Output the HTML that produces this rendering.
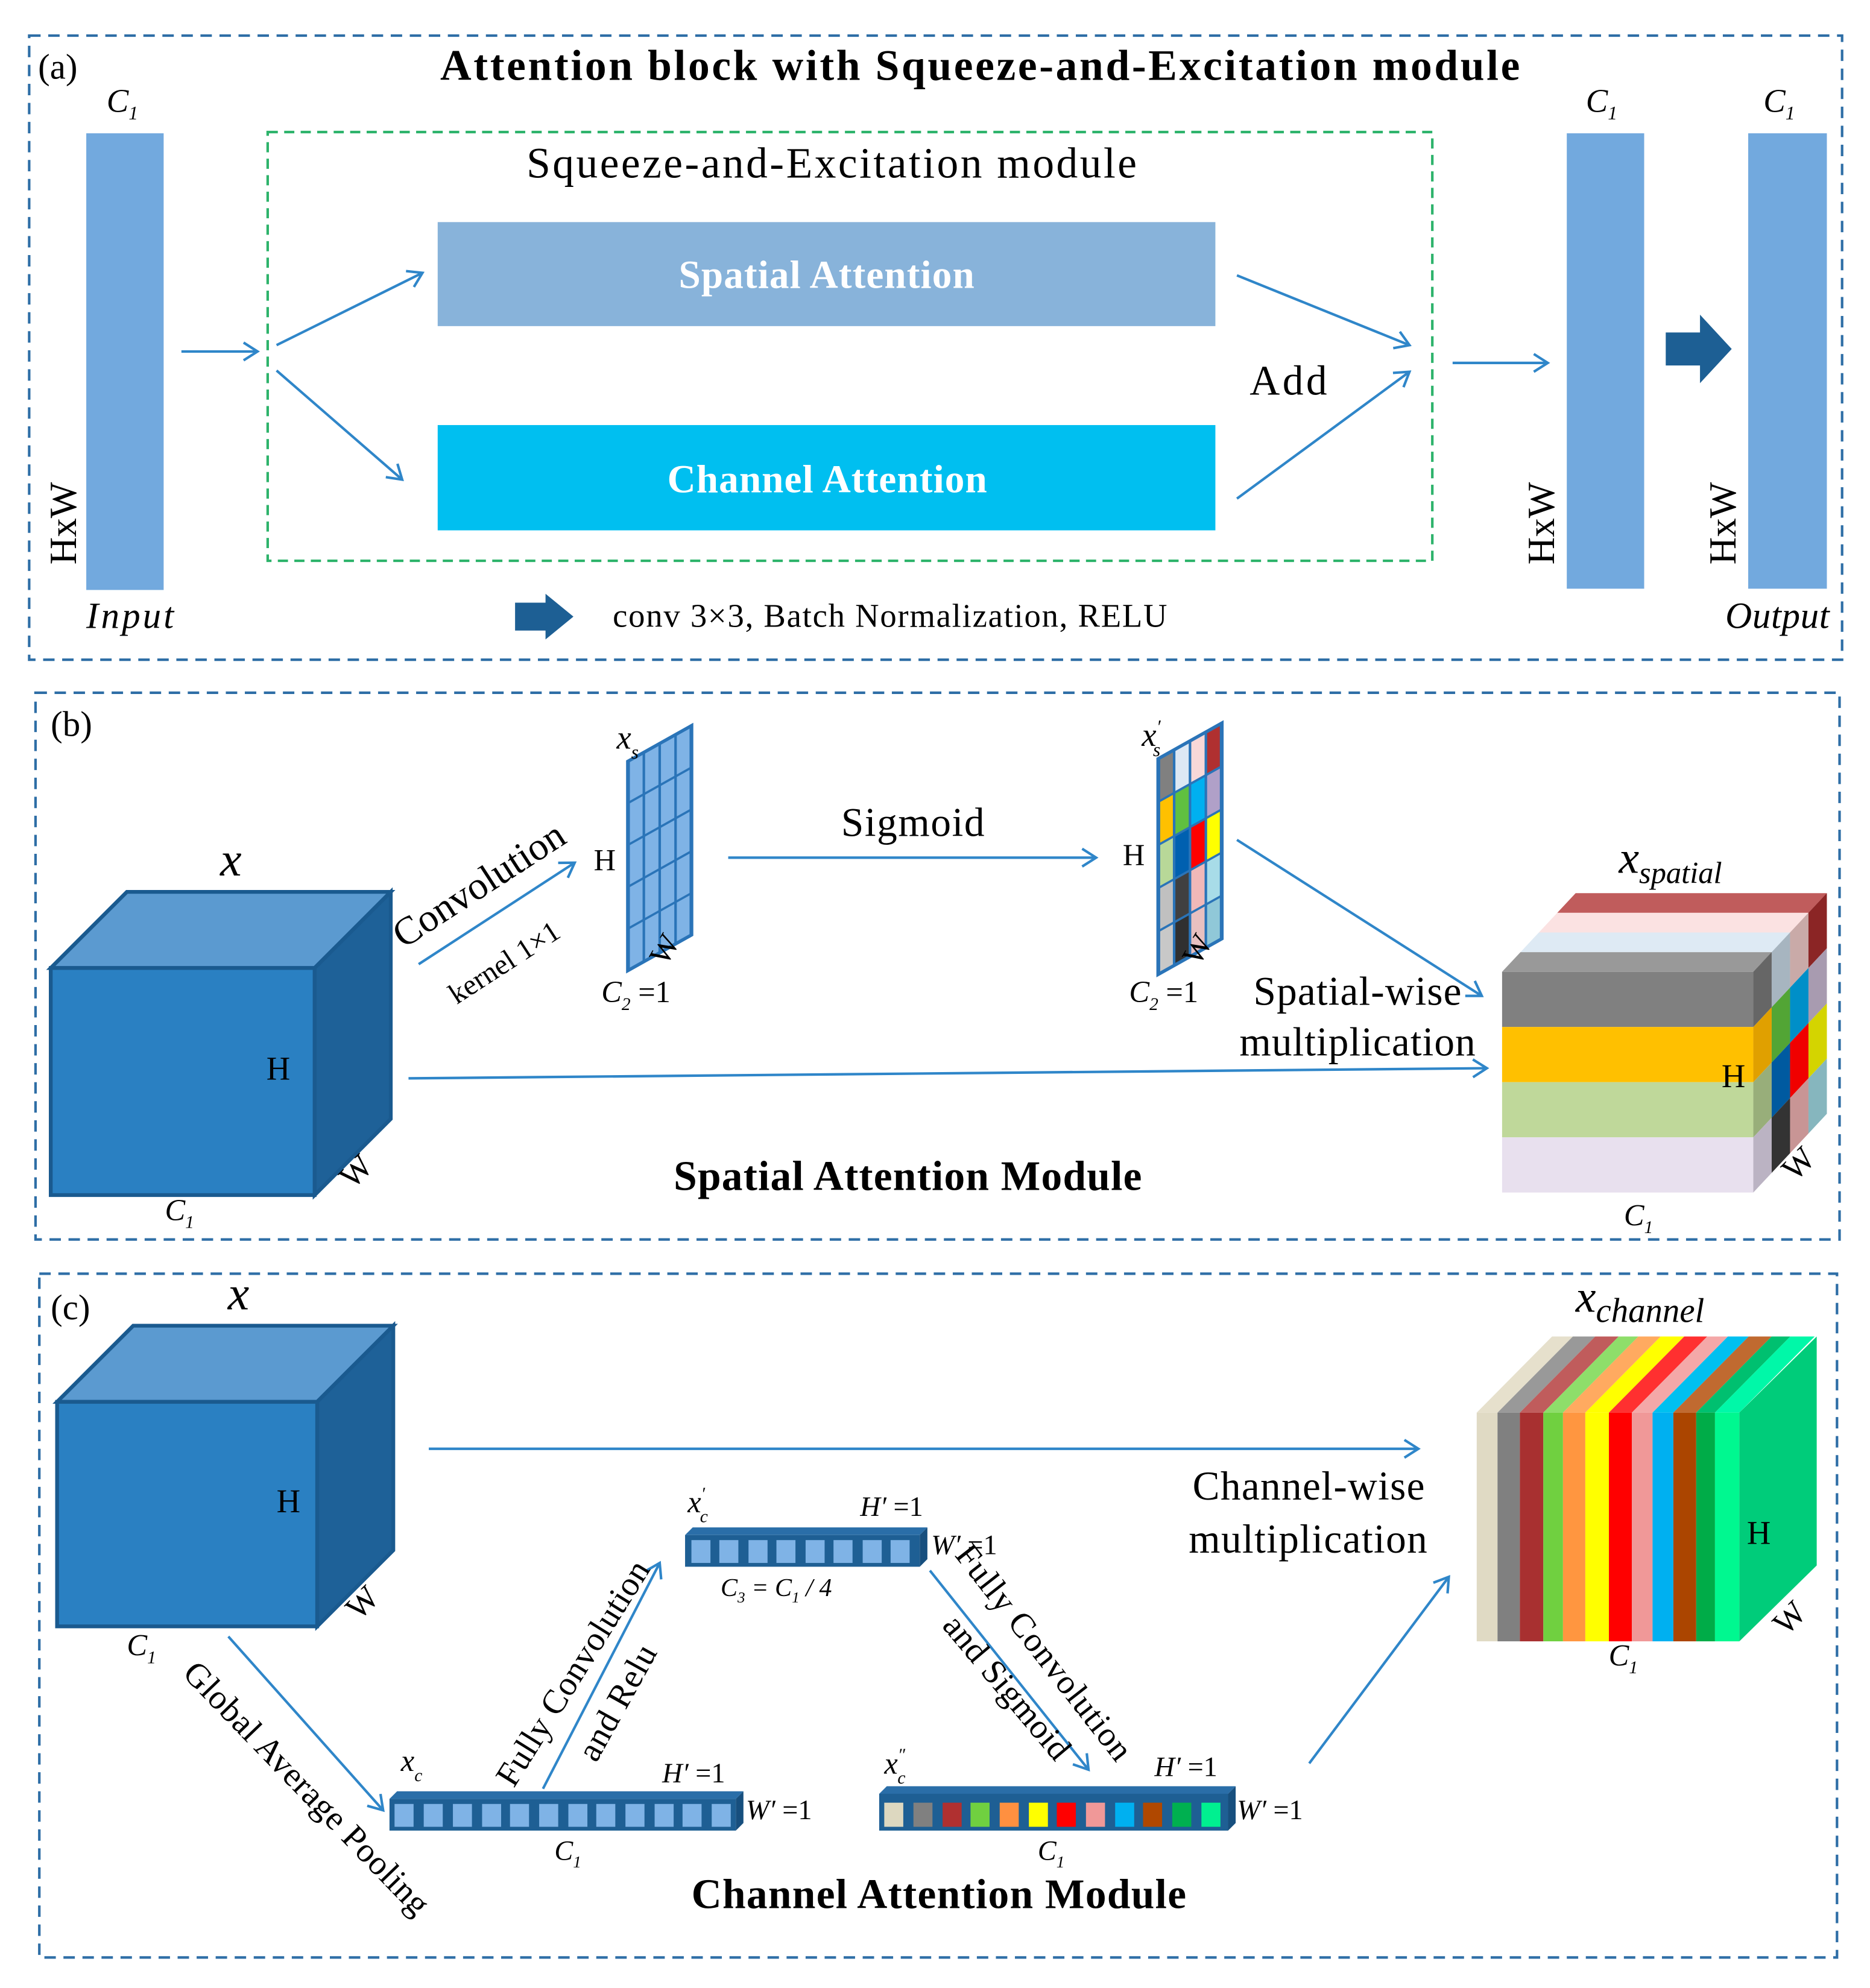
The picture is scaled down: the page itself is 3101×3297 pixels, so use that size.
<!DOCTYPE html>
<html><head><meta charset="utf-8"><style>
html,body{margin:0;padding:0;background:#fff}
svg{display:block}
text{font-family:"Liberation Serif",serif;fill:#000}
.i{font-style:italic}
.b{font-weight:bold}
</style></head><body>
<svg width="3101" height="3297" viewBox="0 0 1474 1567" xmlns="http://www.w3.org/2000/svg">
<defs>
<marker id="ar" markerWidth="16" markerHeight="16" refX="12" refY="8" orient="auto" markerUnits="userSpaceOnUse">
<path d="M1,1 L12,8 L1,15" fill="none" stroke="#2f86c9" stroke-width="2"/>
</marker>
</defs>
<g fill="none" stroke="#2e6ea6" stroke-width="2" stroke-dasharray="9,6">
<rect x="23" y="28" width="1429" height="492"/>
<rect x="28" y="546" width="1422" height="431"/>
<rect x="31" y="1004" width="1417" height="539"/>
</g>
<rect x="211" y="104" width="918" height="338" fill="none" stroke="#2db36b" stroke-width="2" stroke-dasharray="8,5"/>

<!-- (a) -->
<text x="30" y="62" font-size="28">(a)</text>
<text x="347" y="63" font-size="34" class="b" textLength="851" lengthAdjust="spacing">Attention block with Squeeze-and-Excitation  module</text>
<rect x="68" y="105" width="61" height="360" fill="#72a9de"/>
<text x="84" y="88" font-size="26" class="i">C<tspan font-size="15" dy="6">1</tspan></text>
<text transform="translate(60,445) rotate(-90)" font-size="30">HxW</text>
<text x="68" y="495" font-size="29" class="i" textLength="69" lengthAdjust="spacing">Input</text>
<text x="415" y="140" font-size="34" textLength="481" lengthAdjust="spacing">Squeeze-and-Excitation  module</text>
<rect x="345" y="175" width="613" height="82" fill="#88b3da"/>
<text x="535" y="227" font-size="31" class="b" style="fill:#fff" textLength="233" lengthAdjust="spacing">Spatial Attention</text>
<rect x="345" y="335" width="613" height="83" fill="#00bff0"/>
<text x="526" y="388" font-size="31" class="b" style="fill:#fff" textLength="252" lengthAdjust="spacing">Channel Attention</text>
<g stroke="#2f86c9" stroke-width="2" marker-end="url(#ar)">
<line x1="143" y1="277" x2="203" y2="277"/>
<line x1="218" y1="272" x2="333" y2="215"/>
<line x1="218" y1="292" x2="317" y2="378"/>
<line x1="975" y1="217" x2="1111" y2="272"/>
<line x1="975" y1="393" x2="1111" y2="293"/>
<line x1="1145" y1="286" x2="1220" y2="286"/>
</g>
<text x="985" y="311" font-size="33" textLength="61" lengthAdjust="spacing">Add</text>
<rect x="1235" y="105" width="61" height="359" fill="#72a9de"/>
<text x="1250" y="88" font-size="26" class="i">C<tspan font-size="15" dy="6">1</tspan></text>
<text transform="translate(1225,445) rotate(-90)" font-size="30">HxW</text>
<path d="M1313,262 L1340,262 L1340,248 L1365,275 L1340,302 L1340,288 L1313,288 Z" fill="#1d5f94"/>
<rect x="1378" y="105" width="62" height="359" fill="#72a9de"/>
<text x="1390" y="88" font-size="26" class="i">C<tspan font-size="15" dy="6">1</tspan></text>
<text transform="translate(1368,445) rotate(-90)" font-size="30">HxW</text>
<text x="1360" y="495" font-size="29" class="i" textLength="82" lengthAdjust="spacing">Output</text>
<path d="M406,475 L430,475 L430,468 L452,486 L430,504 L430,497 L406,497 Z" fill="#1d5f94"/>
<text x="483" y="494" font-size="26" textLength="437" lengthAdjust="spacing">conv 3×3, Batch Normalization, RELU</text>

<!-- (b) -->
<text x="40" y="580" font-size="28">(b)</text>
<polygon points="40,763 100,703 308,703 248,763" fill="#5b9ad0" stroke="#1a5a8f" stroke-width="3"/>
<polygon points="248,763 308,703 308,882 248,942" fill="#1e6198" stroke="#1a5a8f" stroke-width="3"/>
<rect x="40" y="763" width="208" height="179" fill="#2a80c2" stroke="#1a5a8f" stroke-width="3"/>
<text x="182" y="690" font-size="38" class="i" text-anchor="middle">x</text>
<text x="210" y="851" font-size="26">H</text>
<text transform="translate(278,938) rotate(-45)" font-size="26">W</text>
<text x="130" y="962" font-size="24" class="i">C<tspan font-size="14" dy="6">1</tspan></text>
<g stroke="#2f86c9" stroke-width="2" marker-end="url(#ar)">
<line x1="330" y1="760" x2="453" y2="680"/>
<line x1="574" y1="676" x2="864" y2="676"/>
<line x1="975" y1="662" x2="1168" y2="785"/>
<path d="M322,850 L1172,842" fill="none"/>
</g>
<text transform="translate(318,748) rotate(-33)" font-size="31">Convolution</text>
<text transform="translate(360,792) rotate(-33)" font-size="23">kernel 1×1</text>
<g transform="matrix(1,-0.56,0,1,495,600)">
<rect x="0" y="0" width="50" height="165" fill="#7fb3e6" stroke="#2a74b8" stroke-width="3"/>
<g stroke="#2a74b8" stroke-width="2">
<line x1="12.5" y1="0" x2="12.5" y2="165"/><line x1="25" y1="0" x2="25" y2="165"/><line x1="37.5" y1="0" x2="37.5" y2="165"/>
<line x1="0" y1="33" x2="50" y2="33"/><line x1="0" y1="66" x2="50" y2="66"/><line x1="0" y1="99" x2="50" y2="99"/><line x1="0" y1="132" x2="50" y2="132"/>
</g></g>
<text x="486" y="590" font-size="26" class="i">x<tspan font-size="15" dy="8">s</tspan></text>
<text x="468" y="686" font-size="24">H</text>
<text transform="translate(525,762) rotate(-60)" font-size="24">W</text>
<text x="474" y="790" font-size="24" class="i">C<tspan font-size="14" dy="6">2</tspan><tspan dy="-6" font-style="normal"> =1</tspan></text>
<text x="663" y="659" font-size="32" textLength="113" lengthAdjust="spacing">Sigmoid</text>
<g transform="matrix(1,-0.56,0,1,913,598)">
<g stroke="none">
<rect x="0" y="0" width="12.5" height="34" fill="#808080"/><rect x="12.5" y="0" width="12.5" height="34" fill="#dde8f4"/><rect x="25" y="0" width="12.5" height="34" fill="#f8d8d8"/><rect x="37.5" y="0" width="12.5" height="34" fill="#b03030"/>
<rect x="0" y="34" width="12.5" height="34" fill="#ffc000"/><rect x="12.5" y="34" width="12.5" height="34" fill="#60c040"/><rect x="25" y="34" width="12.5" height="34" fill="#00b0f0"/><rect x="37.5" y="34" width="12.5" height="34" fill="#b0a0c8"/>
<rect x="0" y="68" width="12.5" height="34" fill="#b8d898"/><rect x="12.5" y="68" width="12.5" height="34" fill="#0060b0"/><rect x="25" y="68" width="12.5" height="34" fill="#ff0000"/><rect x="37.5" y="68" width="12.5" height="34" fill="#ffff00"/>
<rect x="0" y="102" width="12.5" height="34" fill="#c0c0c0"/><rect x="12.5" y="102" width="12.5" height="34" fill="#404040"/><rect x="25" y="102" width="12.5" height="34" fill="#f0b8b8"/><rect x="37.5" y="102" width="12.5" height="34" fill="#a8dce8"/>
<rect x="0" y="136" width="12.5" height="34" fill="#c8c8c8"/><rect x="12.5" y="136" width="12.5" height="34" fill="#303030"/><rect x="25" y="136" width="12.5" height="34" fill="#e8c0c0"/><rect x="37.5" y="136" width="12.5" height="34" fill="#90c8d8"/>
</g>
<rect x="0" y="0" width="50" height="170" fill="none" stroke="#2a74b8" stroke-width="3"/>
<g stroke="#2a74b8" stroke-width="2">
<line x1="12.5" y1="0" x2="12.5" y2="170"/><line x1="25" y1="0" x2="25" y2="170"/><line x1="37.5" y1="0" x2="37.5" y2="170"/>
<line x1="0" y1="34" x2="50" y2="34"/><line x1="0" y1="68" x2="50" y2="68"/><line x1="0" y1="102" x2="50" y2="102"/><line x1="0" y1="136" x2="50" y2="136"/>
</g></g>
<text x="900" y="588" font-size="26" class="i">x<tspan font-size="15" dy="-10">′</tspan><tspan font-size="15" dx="-6" dy="18">s</tspan></text>
<text x="885" y="682" font-size="24">H</text>
<text transform="translate(945,762) rotate(-60)" font-size="24">W</text>
<text x="890" y="790" font-size="24" class="i">C<tspan font-size="14" dy="6">2</tspan><tspan dy="-6" font-style="normal"> =1</tspan></text>
<text x="988" y="792" font-size="32" textLength="164" lengthAdjust="spacing">Spatial-wise</text>
<text x="977" y="832" font-size="32" textLength="186" lengthAdjust="spacing">multiplication</text>
<text x="531" y="938" font-size="33" class="b" textLength="369" lengthAdjust="spacing">Spatial Attention Module</text>
<!-- spatial cube -->
<g transform="matrix(1,0,-0.935,1,1184,766)">
<rect x="0" y="-62" width="198" height="15.5" fill="#c05c5c"/>
<rect x="0" y="-46.5" width="198" height="15.5" fill="#fbe2e2"/>
<rect x="0" y="-31" width="198" height="15.5" fill="#deeaf4"/>
<rect x="0" y="-15.5" width="198" height="15.5" fill="#999"/>
</g>
<g transform="matrix(1,-1.07,0,1,1382,766)">
<rect x="0" y="0" width="14.5" height="43.5" fill="#666"/><rect x="14.5" y="0" width="14.5" height="43.5" fill="#a7b5c0"/><rect x="29" y="0" width="14.5" height="43.5" fill="#c9aaa8"/><rect x="43.5" y="0" width="14.5" height="43.5" fill="#8b2525"/>
<rect x="0" y="43.5" width="14.5" height="43.5" fill="#e0a000"/><rect x="14.5" y="43.5" width="14.5" height="43.5" fill="#52a535"/><rect x="29" y="43.5" width="14.5" height="43.5" fill="#008fc8"/><rect x="43.5" y="43.5" width="14.5" height="43.5" fill="#a89bb0"/>
<rect x="0" y="87" width="14.5" height="43.5" fill="#98ae7a"/><rect x="14.5" y="87" width="14.5" height="43.5" fill="#005aa0"/><rect x="29" y="87" width="14.5" height="43.5" fill="#f00000"/><rect x="43.5" y="87" width="14.5" height="43.5" fill="#d4d400"/>
<rect x="0" y="130.5" width="14.5" height="43.5" fill="#bbb3c3"/><rect x="14.5" y="130.5" width="14.5" height="43.5" fill="#333"/><rect x="29" y="130.5" width="14.5" height="43.5" fill="#c89595"/><rect x="43.5" y="130.5" width="14.5" height="43.5" fill="#86b6be"/>
</g>
<rect x="1184" y="766" width="198" height="43.5" fill="#808080"/>
<rect x="1184" y="809.5" width="198" height="43.5" fill="#ffc000"/>
<rect x="1184" y="853" width="198" height="43.5" fill="#bfd89a"/>
<rect x="1184" y="896.5" width="198" height="43.5" fill="#e8e0ee"/>
<text x="1357" y="857" font-size="26">H</text>
<text transform="translate(1415,932) rotate(-45)" font-size="26">W</text>
<text x="1280" y="966" font-size="24" class="i">C<tspan font-size="14" dy="6">1</tspan></text>
<text x="1276" y="688" font-size="36" class="i">x<tspan font-size="24" dy="8">spatial</tspan></text>

<!-- (c) -->
<text x="40" y="1040" font-size="28">(c)</text>
<polygon points="45,1105 105,1045 310,1045 250,1105" fill="#5b9ad0" stroke="#1a5a8f" stroke-width="3"/>
<polygon points="250,1105 310,1045 310,1222 250,1282" fill="#1e6198" stroke="#1a5a8f" stroke-width="3"/>
<rect x="45" y="1105" width="205" height="177" fill="#2a80c2" stroke="#1a5a8f" stroke-width="3"/>
<text x="188" y="1032" font-size="38" class="i" text-anchor="middle">x</text>
<text x="218" y="1192" font-size="26">H</text>
<text transform="translate(283,1278) rotate(-45)" font-size="26">W</text>
<text x="100" y="1305" font-size="24" class="i">C<tspan font-size="14" dy="6">1</tspan></text>
<g stroke="#2f86c9" stroke-width="2" marker-end="url(#ar)">
<line x1="338" y1="1142" x2="1118" y2="1142"/>
<line x1="1032" y1="1390" x2="1142" y2="1243"/>
<line x1="180" y1="1290" x2="302" y2="1427"/>
<line x1="428" y1="1410" x2="520" y2="1232"/>
<line x1="733" y1="1238" x2="858" y2="1395"/>
</g>
<text x="940" y="1182" font-size="32" textLength="183" lengthAdjust="spacing">Channel-wise</text>
<text x="937" y="1224" font-size="32" textLength="188" lengthAdjust="spacing">multiplication</text>
<text transform="translate(143,1320) rotate(46)" font-size="27" textLength="266" lengthAdjust="spacing">Global Average Pooling</text>
<text transform="translate(405,1410) rotate(-58)" font-size="27" textLength="204" lengthAdjust="spacing">Fully Convolution</text>
<text transform="translate(470,1390) rotate(-61)" font-size="27" textLength="100" lengthAdjust="spacing">and Relu</text>
<text transform="translate(752,1226) rotate(52)" font-size="27" textLength="208" lengthAdjust="spacing">Fully Convolution</text>
<text transform="translate(742,1282) rotate(50)" font-size="27" textLength="140" lengthAdjust="spacing">and Sigmoid</text>
<!-- xc bar -->
<g>
<polygon points="307,1418 313,1412 586,1412 580,1418" fill="#2a6ea8"/>
<rect x="307" y="1418" width="273" height="25" fill="#1e5f94"/>
<polygon points="580,1418 586,1412 586,1437 580,1443" fill="#174f7e"/>
<g fill="#7fb3e6">
<rect x="311" y="1422" width="15" height="18"/><rect x="334" y="1422" width="15" height="18"/><rect x="357" y="1422" width="15" height="18"/><rect x="380" y="1422" width="15" height="18"/><rect x="402" y="1422" width="15" height="18"/><rect x="425" y="1422" width="15" height="18"/><rect x="448" y="1422" width="15" height="18"/><rect x="470" y="1422" width="15" height="18"/><rect x="493" y="1422" width="15" height="18"/><rect x="516" y="1422" width="15" height="18"/><rect x="538" y="1422" width="15" height="18"/><rect x="561" y="1422" width="15" height="18"/>
</g></g>
<text x="316" y="1396" font-size="24" class="i">x<tspan font-size="14" dy="8">c</tspan></text>
<text x="522" y="1405" font-size="22" class="i">H′<tspan font-style="normal"> =1</tspan></text>
<text x="588" y="1434" font-size="22" class="i">W′<tspan font-style="normal"> =1</tspan></text>
<text x="437" y="1466" font-size="22" class="i">C<tspan font-size="13" dy="6">1</tspan></text>
<!-- x'c bar -->
<g>
<polygon points="540,1210 546,1204 731,1204 725,1210" fill="#2a6ea8"/>
<rect x="540" y="1210" width="185" height="25" fill="#1e5f94"/>
<polygon points="725,1210 731,1204 731,1229 725,1235" fill="#174f7e"/>
<g fill="#7fb3e6">
<rect x="545" y="1214" width="15" height="18"/><rect x="567" y="1214" width="15" height="18"/><rect x="590" y="1214" width="15" height="18"/><rect x="612" y="1214" width="15" height="18"/><rect x="635" y="1214" width="15" height="18"/><rect x="657" y="1214" width="15" height="18"/><rect x="680" y="1214" width="15" height="18"/><rect x="702" y="1214" width="15" height="18"/>
</g></g>
<text x="542" y="1192" font-size="24" class="i">x<tspan font-size="14" dy="-10">′</tspan><tspan font-size="14" dx="-4" dy="18">c</tspan></text>
<text x="678" y="1195" font-size="22" class="i">H′<tspan font-style="normal"> =1</tspan></text>
<text x="734" y="1225" font-size="22" class="i">W′<tspan font-style="normal"> =1</tspan></text>
<text x="568" y="1258" font-size="20" class="i">C<tspan font-size="12" dy="5">3</tspan><tspan dy="-5"> = C</tspan><tspan font-size="12" dy="5">1</tspan><tspan dy="-5"> / 4</tspan></text>
<!-- x''c bar -->
<g>
<polygon points="693,1414 699,1408 974,1408 968,1414" fill="#2a6ea8"/>
<rect x="693" y="1414" width="275" height="29" fill="#1e5f94"/>
<polygon points="968,1414 974,1408 974,1437 968,1443" fill="#174f7e"/>
<rect x="697" y="1421" width="15" height="19" fill="#ddd8c0"/><rect x="720" y="1421" width="15" height="19" fill="#808080"/><rect x="743" y="1421" width="15" height="19" fill="#b03030"/><rect x="765" y="1421" width="15" height="19" fill="#70d040"/><rect x="788" y="1421" width="15" height="19" fill="#ff9040"/><rect x="811" y="1421" width="15" height="19" fill="#ffff00"/><rect x="833" y="1421" width="15" height="19" fill="#ff0000"/><rect x="856" y="1421" width="15" height="19" fill="#f09898"/><rect x="879" y="1421" width="15" height="19" fill="#00b0f0"/><rect x="901" y="1421" width="15" height="19" fill="#b04800"/><rect x="924" y="1421" width="15" height="19" fill="#00b050"/><rect x="947" y="1421" width="15" height="19" fill="#00f090"/>
</g>
<text x="697" y="1398" font-size="24" class="i">x<tspan font-size="14" dy="-10">″</tspan><tspan font-size="14" dx="-6" dy="18">c</tspan></text>
<text x="910" y="1400" font-size="22" class="i">H′<tspan font-style="normal"> =1</tspan></text>
<text x="975" y="1434" font-size="22" class="i">W′<tspan font-style="normal"> =1</tspan></text>
<text x="818" y="1466" font-size="22" class="i">C<tspan font-size="13" dy="6">1</tspan></text>
<text x="545" y="1504" font-size="33" class="b" textLength="390" lengthAdjust="spacing">Channel Attention Module</text>
<!-- channel cube -->
<g transform="matrix(1,0,-0.99,1,1164,1113.5)">
<rect x="0" y="-60" width="16.4" height="60" fill="#e6e0cc"/><rect x="16.4" y="-60" width="17.6" height="60" fill="#999"/><rect x="34" y="-60" width="18.5" height="60" fill="#c05c5c"/><rect x="52.5" y="-60" width="15.5" height="60" fill="#8ede6a"/><rect x="68" y="-60" width="17.6" height="60" fill="#ffaa60"/><rect x="85.6" y="-60" width="18.6" height="60" fill="#ffff00"/><rect x="104.2" y="-60" width="18.1" height="60" fill="#ff3030"/><rect x="122.3" y="-60" width="16.3" height="60" fill="#f4a8a8"/><rect x="138.6" y="-60" width="16.4" height="60" fill="#00c0f0"/><rect x="155" y="-60" width="18" height="60" fill="#c06a30"/><rect x="173" y="-60" width="14.8" height="60" fill="#00c070"/><rect x="187.8" y="-60" width="19.2" height="60" fill="#00f8a8"/>
</g>
<rect x="1164" y="1113.5" width="16.4" height="180.3" fill="#e0dac4"/><rect x="1180.4" y="1113.5" width="17.6" height="180.3" fill="#808080"/><rect x="1198" y="1113.5" width="18.5" height="180.3" fill="#a83030"/><rect x="1216.5" y="1113.5" width="15.5" height="180.3" fill="#70d040"/><rect x="1232" y="1113.5" width="17.6" height="180.3" fill="#ff9640"/><rect x="1249.6" y="1113.5" width="18.6" height="180.3" fill="#ffff00"/><rect x="1268.2" y="1113.5" width="18.1" height="180.3" fill="#ff0000"/><rect x="1286.3" y="1113.5" width="16.3" height="180.3" fill="#f09898"/><rect x="1302.6" y="1113.5" width="16.4" height="180.3" fill="#00b0f0"/><rect x="1319" y="1113.5" width="18" height="180.3" fill="#ab4500"/><rect x="1337" y="1113.5" width="14.8" height="180.3" fill="#00ac48"/><rect x="1351.8" y="1113.5" width="19.2" height="180.3" fill="#00f890"/>
<polygon points="1371,1113.5 1432,1053.5 1432,1234 1371,1293.8" fill="#00cc7a"/>
<text x="1377" y="1217" font-size="26">H</text>
<text transform="translate(1408,1290) rotate(-45)" font-size="26">W</text>
<text x="1268" y="1313" font-size="24" class="i">C<tspan font-size="14" dy="6">1</tspan></text>
<text x="1242" y="1034" font-size="36" class="i">x<tspan font-size="27" dy="8">channel</tspan></text>
</svg>
</body></html>
